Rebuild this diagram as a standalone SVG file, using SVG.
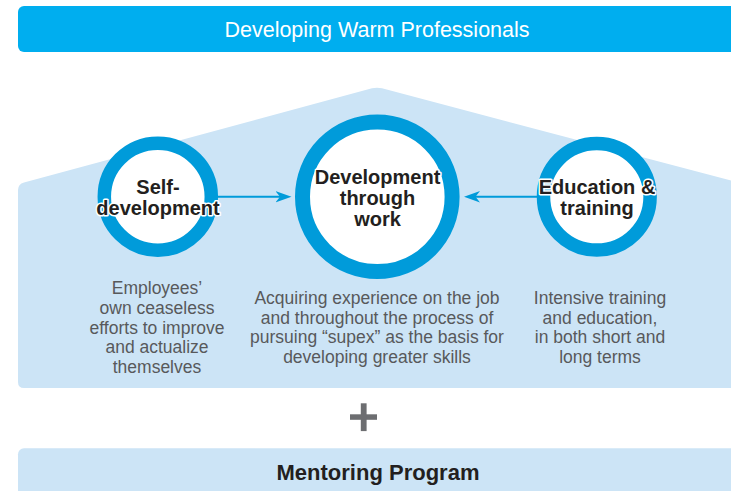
<svg xmlns="http://www.w3.org/2000/svg" width="731" height="491" viewBox="0 0 731 491">
  <defs>
    <style>
      .bar-top { fill: #00AEEF; }
      .light { fill: #CCE4F6; }
      .ring { fill: #FFFFFF; stroke: #009BDA; }
      .title { font-family: "Liberation Sans", Arial, sans-serif; font-size: 21.5px; fill: #FFFFFF; text-anchor: middle; }
      .node-label { font-family: "Liberation Sans", Arial, sans-serif; font-size: 20px; font-weight: bold; fill: #231F20; text-anchor: middle; stroke: #FFFFFF; stroke-width: 3px; stroke-linejoin: round; paint-order: stroke fill; }
      .desc { font-family: "Liberation Sans", Arial, sans-serif; font-size: 17.5px; fill: #58595B; text-anchor: middle; }
      .mentor { font-family: "Liberation Sans", Arial, sans-serif; font-size: 22px; font-weight: bold; fill: #231F20; text-anchor: middle; }
      .conn { stroke: #009BDA; stroke-width: 2; fill: none; }
      .plus { fill: #6D6E71; }
    </style>
    <marker id="arrow" viewBox="0 0 16 12" refX="10.5" refY="6" markerWidth="16" markerHeight="12" markerUnits="userSpaceOnUse" orient="auto">
      <path d="M0,0.3 L16,6 L0,11.7 L4.5,6 Z" fill="#009BDA"/>
    </marker>
  </defs>

  <g id="header">
    <rect class="bar-top" x="18" y="6" width="730" height="46" rx="6"/>
    <text class="title" x="377" y="36.7">Developing Warm Professionals</text>
  </g>

  <g id="house">
    <path class="light" d="M18,190 Q18,184 24,182.4 L372,88.3 Q377,87 382,88.3 L740,183 L740,388 L24,388 Q18,388 18,382 Z"/>
  </g>

  <g id="connectors">
    <line class="conn" x1="218" y1="196.7" x2="286" y2="196.7" marker-end="url(#arrow)"/>
    <line class="conn" x1="537" y1="196.7" x2="469.5" y2="196.7" marker-end="url(#arrow)"/>
  </g>

  <g id="self-development">
    <circle class="ring" cx="157.8" cy="196.7" r="53.5" stroke-width="13.5"/>
    <text class="node-label" x="158" y="194">Self-</text>
    <text class="node-label" x="158" y="215">development</text>
    <text class="desc" x="157" y="294">Employees’</text>
    <text class="desc" x="157" y="313.75">own ceaseless</text>
    <text class="desc" x="157" y="333.5">efforts to improve</text>
    <text class="desc" x="157" y="353.25">and actualize</text>
    <text class="desc" x="157" y="373">themselves</text>
  </g>

  <g id="development-through-work">
    <circle class="ring" cx="377.3" cy="196.8" r="74.8" stroke-width="15"/>
    <text class="node-label" x="377.5" y="184.3">Development</text>
    <text class="node-label" x="377.5" y="205">through</text>
    <text class="node-label" x="377.5" y="225.5">work</text>
    <text class="desc" x="377" y="304">Acquiring experience on the job</text>
    <text class="desc" x="377" y="323.7">and throughout the process of</text>
    <text class="desc" x="377" y="343.4">pursuing “supex” as the basis for</text>
    <text class="desc" x="377" y="363.2">developing greater skills</text>
  </g>

  <g id="education-training">
    <circle class="ring" cx="596.8" cy="196.8" r="53.3" stroke-width="13.5"/>
    <text class="node-label" x="597" y="194">Education &amp;</text>
    <text class="node-label" x="597" y="215">training</text>
    <text class="desc" x="600" y="304">Intensive training</text>
    <text class="desc" x="600" y="323.7">and education,</text>
    <text class="desc" x="600" y="343.4">in both short and</text>
    <text class="desc" x="600" y="363.2">long terms</text>
  </g>

  <g id="plus">
    <rect class="plus" x="350" y="414.3" width="27" height="5.5"/>
    <rect class="plus" x="360.8" y="403.3" width="5.8" height="27.8"/>
  </g>

  <g id="mentoring">
    <rect class="light" x="18" y="448.3" width="730" height="60" rx="6"/>
    <text class="mentor" x="378" y="480">Mentoring Program</text>
  </g>
</svg>
